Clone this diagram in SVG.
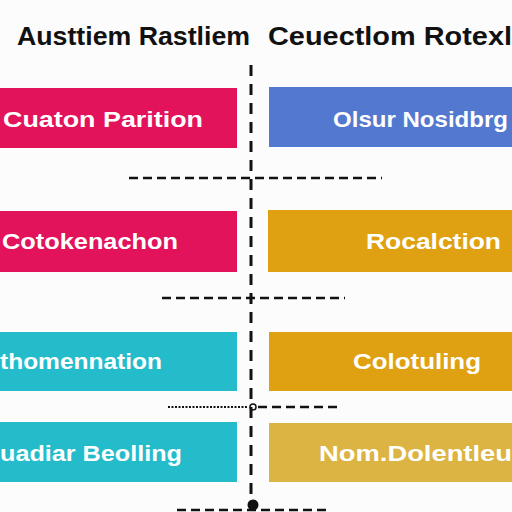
<svg xmlns="http://www.w3.org/2000/svg" width="512" height="512" viewBox="0 0 512 512">
<style>
.title{font-family:"Liberation Sans",Arial,sans-serif;font-weight:bold;font-size:25px;fill:#111}
.lbl{font-family:"Liberation Sans",Arial,sans-serif;font-weight:bold;font-size:22px;fill:#fff}
.dash{stroke:#111;stroke-width:2.5;stroke-dasharray:9 5;fill:none}
.vdash{stroke:#111;stroke-width:3;stroke-dasharray:11 8;fill:none}
</style>
<rect width="512" height="512" fill="#fcfcfc"/>
<g id="title">
<text class="title" x="17" y="45" textLength="233" lengthAdjust="spacingAndGlyphs">Austtiem Rastliem</text>
<text class="title" x="268" y="45" textLength="244" lengthAdjust="spacingAndGlyphs">Ceuectlom Rotexl</text>
</g>
<g id="connectors">
<line class="vdash" x1="251" y1="65" x2="251" y2="503"/>
<line class="dash" x1="129" y1="178" x2="382" y2="178"/>
<line class="dash" x1="162" y1="298" x2="345" y2="298"/>
<line x1="168" y1="407" x2="248" y2="407" stroke="#111" stroke-width="2" stroke-dasharray="2 1.5"/>
<line class="dash" x1="258" y1="407" x2="338" y2="407"/>
<circle cx="253" cy="407" r="3" fill="none" stroke="#111" stroke-width="1.5"/>
<line class="dash" x1="177" y1="510" x2="327" y2="510"/>
<circle cx="253" cy="505" r="5.5" fill="#111"/>
</g>
<g id="node-l1"><rect x="0" y="88" width="237" height="60" fill="#e2135b"/><text class="lbl" x="3" y="127" textLength="200" lengthAdjust="spacingAndGlyphs">Cuaton Parition</text></g>
<g id="node-r1"><rect x="269" y="87" width="243" height="60" fill="#5378cf"/><text class="lbl" x="333" y="127" textLength="175" lengthAdjust="spacingAndGlyphs">Olsur Nosidbrg</text></g>
<g id="node-l2"><rect x="0" y="211" width="237" height="61" fill="#e2135b"/><text class="lbl" x="2" y="249" textLength="176" lengthAdjust="spacingAndGlyphs">Cotokenachon</text></g>
<g id="node-r2"><rect x="268" y="210" width="244" height="62" fill="#dfa112"/><text class="lbl" x="366" y="249" textLength="135" lengthAdjust="spacingAndGlyphs">Rocalction</text></g>
<g id="node-l3"><rect x="0" y="332" width="237" height="59" fill="#24bccb"/><text class="lbl" x="0" y="369" textLength="162" lengthAdjust="spacingAndGlyphs">thomennation</text></g>
<g id="node-r3"><rect x="269" y="332" width="243" height="59" fill="#dfa112"/><text class="lbl" x="353" y="369" textLength="128" lengthAdjust="spacingAndGlyphs">Colotuling</text></g>
<g id="node-l4"><rect x="0" y="422" width="237" height="60" fill="#24bccb"/><text class="lbl" x="0" y="461" textLength="182" lengthAdjust="spacingAndGlyphs">uadiar Beolling</text></g>
<g id="node-r4"><rect x="269" y="423" width="243" height="59" fill="#dcb443"/><text class="lbl" x="319" y="461" textLength="193" lengthAdjust="spacingAndGlyphs">Nom.Dolentleu</text></g>
</svg>
